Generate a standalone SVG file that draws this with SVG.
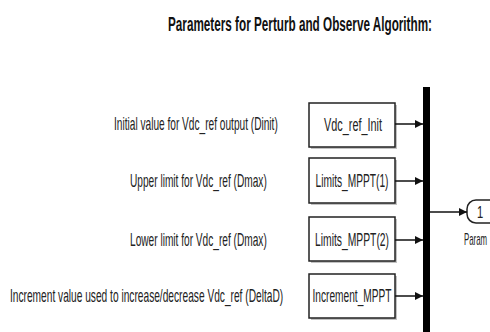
<svg xmlns="http://www.w3.org/2000/svg" width="490" height="332" viewBox="0 0 490 332">
<defs>
<style>
.t{font-family:"Liberation Sans",Arial,sans-serif;font-size:19px;fill:#222}
.b{font-family:"Liberation Sans",Arial,sans-serif;font-size:19px;fill:#222;text-anchor:middle}
.title{font-family:"Liberation Sans",Arial,sans-serif;font-size:21px;font-weight:bold;fill:#111}
.box{fill:#fff;stroke:#222;stroke-width:1.5}
.sh{fill:#999;opacity:0.6}
.ln{stroke:#111;stroke-width:1.5;fill:none}
</style>
<marker id="ah" viewBox="0 0 8 8" refX="8" refY="4" markerWidth="8" markerHeight="8" markerUnits="userSpaceOnUse" orient="auto">
<path d="M0,0 L8,4 L0,8 Z" fill="#111"/>
</marker>
</defs>
<rect width="490" height="332" fill="#fff"/>
<text class="title" transform="translate(168,31) scale(0.5,1)" textLength="528" lengthAdjust="spacingAndGlyphs">Parameters for Perturb and Observe Algorithm:</text>

<g id="label1"><text class="t" transform="translate(114,130) scale(0.45,1)" textLength="364" lengthAdjust="spacingAndGlyphs">Initial value for Vdc_ref output (Dinit)</text></g>
<g id="label2"><text class="t" transform="translate(130,187) scale(0.45,1)" textLength="304" lengthAdjust="spacingAndGlyphs">Upper limit for Vdc_ref (Dmax)</text></g>
<g id="label3"><text class="t" transform="translate(130,246) scale(0.45,1)" textLength="304" lengthAdjust="spacingAndGlyphs">Lower limit for Vdc_ref (Dmax)</text></g>
<g id="label4"><text class="t" transform="translate(10,302) scale(0.45,1)" textLength="607" lengthAdjust="spacingAndGlyphs">Increment value used to increase/decrease Vdc_ref (DeltaD)</text></g>

<g id="vdc_ref_init">
<rect class="sh" x="311" y="105" width="86" height="44"/>
<rect class="box" x="309" y="103" width="86" height="44"/>
<text class="b" transform="translate(353,131) scale(0.5,1)" textLength="116" lengthAdjust="spacingAndGlyphs">Vdc_ref_Init</text>
</g>
<g id="limits1">
<rect class="sh" x="311" y="160" width="86" height="45"/>
<rect class="box" x="309" y="158" width="86" height="45"/>
<text class="b" transform="translate(352,187) scale(0.5,1)" textLength="146" lengthAdjust="spacingAndGlyphs">Limits_MPPT(1)</text>
</g>
<g id="limits2">
<rect class="sh" x="311" y="219" width="86" height="44"/>
<rect class="box" x="309" y="217" width="86" height="44"/>
<text class="b" transform="translate(352,246) scale(0.5,1)" textLength="148" lengthAdjust="spacingAndGlyphs">Limits_MPPT(2)</text>
</g>
<g id="increment">
<rect class="sh" x="311" y="276" width="86" height="44"/>
<rect class="box" x="309" y="274" width="86" height="44"/>
<text class="b" transform="translate(352,302) scale(0.5,1)" textLength="158" lengthAdjust="spacingAndGlyphs">Increment_MPPT</text>
</g>

<g id="mux"><rect x="423" y="87" width="7" height="250" fill="#000"/></g>

<g id="outport">
<rect x="467" y="200" width="40" height="23" rx="9" fill="#fff" stroke="#222" stroke-width="1.5"/>
<text class="b" transform="translate(480,218) scale(0.7,1)" style="font-size:16px">1</text>
<text class="t" transform="translate(464,245) scale(0.55,1)" style="font-size:16px" textLength="42" lengthAdjust="spacingAndGlyphs">Param</text>
</g>

<g id="connectors">
<line class="ln" x1="395" y1="124" x2="423" y2="124" marker-end="url(#ah)"/>
<line class="ln" x1="395" y1="181" x2="423" y2="181" marker-end="url(#ah)"/>
<line class="ln" x1="395" y1="240" x2="423" y2="240" marker-end="url(#ah)"/>
<line class="ln" x1="395" y1="296" x2="423" y2="296" marker-end="url(#ah)"/>
<line class="ln" x1="430" y1="212" x2="467" y2="212" marker-end="url(#ah)"/>
</g>
</svg>
